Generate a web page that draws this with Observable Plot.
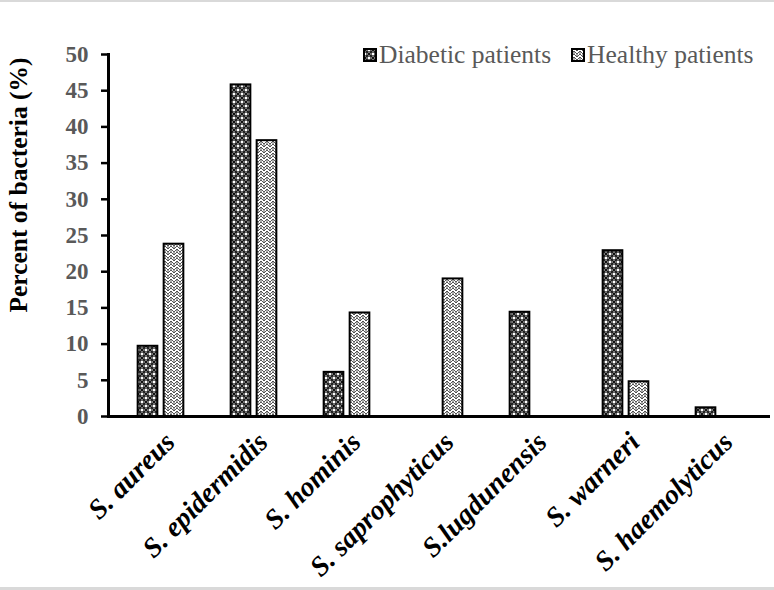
<!DOCTYPE html>
<html><head><meta charset="utf-8">
<script src="https://cdn.jsdelivr.net/npm/d3@7"></script>
<script src="https://cdn.jsdelivr.net/npm/@observablehq/plot@0.6"></script>
<style>
html,body{margin:0;padding:0;background:#fff;}
#wrap{position:relative;width:774px;height:590px;overflow:hidden;font-family:"Liberation Serif","Times New Roman",serif;}
.bt{position:absolute;left:0;top:0;width:774px;height:2px;background:#d9d9d9;}
.bb{position:absolute;left:0;top:587px;width:774px;height:3px;background:#d9d9d9;}
#legend{position:absolute;top:40px;left:363px;display:flex;align-items:center;font-size:25.5px;line-height:30px;color:#595959;white-space:nowrap;}
#legend .it{display:flex;align-items:center;}
#legend svg{margin-right:2px;}
g[aria-label="x-axis tick label"] text{font-style:italic;font-weight:bold;}
</style>
</head><body>
<div id="wrap"><div class="bt"></div><div class="bb"></div><div id="chart"></div><div id="legend"></div></div>
<script>
const species = ["S. aureus","S. epidermidis","S. hominis","S. saprophyticus","S.lugdunensis","S. warneri","S. haemolyticus"];
const diabetic = [9.7, 45.8, 6.1, 0, 14.4, 22.9, 1.2];
const healthy = [23.8, 38.1, 14.3, 19.0, 0, 4.8, 0];
const seriesNames = ["Diabetic patients", "Healthy patients"];
const yTicks = [0,5,10,15,20,25,30,35,40,45,50];

const dData = species.map((s,i)=>({species:s, value:diabetic[i]})).filter(d=>d.value>0);
const hData = species.map((s,i)=>({species:s, value:healthy[i]})).filter(d=>d.value>0);

const W = 774, H = 590, ML = 108, MR = 4;
const step = (W - ML - MR) / (species.length + 2*0.047);
const half = step/2;

const plot = Plot.plot({
  width: W, height: H,
  marginLeft: ML, marginRight: MR, marginTop: 54, marginBottom: 174,
  style: {fontFamily: '"Liberation Serif","Times New Roman",serif', background: "transparent"},
  x: {type: "band", domain: species, paddingInner: 0, paddingOuter: 0.047, label: null},
  y: {domain: [0, 50], label: null},
  marks: [
    Plot.barY(dData, {x: "species", y: "value", fill: "url(#pd)", stroke: "black", strokeWidth: 2,
      insetLeft: half - 23, insetRight: half + 3}),
    Plot.barY(hData, {x: "species", y: "value", fill: "url(#ph)", stroke: "black", strokeWidth: 2,
      insetLeft: half + 3, insetRight: half - 23}),
    Plot.ruleY([0], {stroke: "black", strokeWidth: 3}),
    Plot.axisY({ticks: yTicks, tickSize: 7, tickPadding: 13, strokeWidth: 2.5, stroke: "black",
      fontSize: 23, fontWeight: "bold", fill: "#595959", label: null}),
    Plot.frame({anchor: "left", stroke: "black", strokeWidth: 3}),
    Plot.axisX({tickRotate: -45, tickSize: 0, tickPadding: 21, dx: 9, fontSize: 28,
      fontWeight: "bold", fontStyle: "italic", fill: "black", label: null})
  ]
});

const svg = d3.select(plot);
const defs = svg.insert("defs", ":first-child");
// diabetic pattern: dark checker of ringed dots
const pd = defs.append("pattern").attr("id","pd").attr("patternUnits","userSpaceOnUse").attr("width",8).attr("height",8);
pd.append("rect").attr("width",8).attr("height",8).attr("fill","#000");
pd.append("rect").attr("x",4.6).attr("y",0.6).attr("width",2.8).attr("height",2.8).attr("fill","#fff");
pd.append("rect").attr("x",0.6).attr("y",4.6).attr("width",2.8).attr("height",2.8).attr("fill","#fff");
pd.append("circle").attr("cx",2).attr("cy",2).attr("r",1.6).attr("fill","none").attr("stroke","#999").attr("stroke-width",0.8);
pd.append("circle").attr("cx",6).attr("cy",6).attr("r",1.6).attr("fill","none").attr("stroke","#999").attr("stroke-width",0.8);
// healthy pattern: grey herringbone weave
const ph = defs.append("pattern").attr("id","ph").attr("patternUnits","userSpaceOnUse").attr("width",6).attr("height",6);
ph.append("rect").attr("width",6).attr("height",6).attr("fill","#fff");
ph.append("path").attr("d","M0,3 L3,0 L6,3 M0,6 L3,3 L6,6 M3,3 L3,6 M0,0 L0,3 M6,0 L6,3")
  .attr("fill","none").attr("stroke","#444").attr("stroke-width",0.9);

// y title
svg.append("text").attr("transform","translate(18,185) rotate(-90)")
  .attr("text-anchor","middle").attr("dominant-baseline","central")
  .attr("font-size",25.5).attr("font-weight","bold").attr("fill","black")
  .text("Percent of bacteria (%)");

document.getElementById("chart").appendChild(plot);

// legend
const leg = d3.select("#legend");
seriesNames.forEach((name, i) => {
  const it = leg.append("div").attr("class","it").style("margin-right", i === 0 ? "20px" : "0");
  const s = it.append("svg").attr("width",14).attr("height",14);
  s.append("rect").attr("x",1).attr("y",1).attr("width",12).attr("height",12)
    .attr("fill", i === 0 ? "url(#pd)" : "url(#ph)").attr("stroke","black").attr("stroke-width",2);
  it.append("span").text(name);
});
</script>
</body></html>
